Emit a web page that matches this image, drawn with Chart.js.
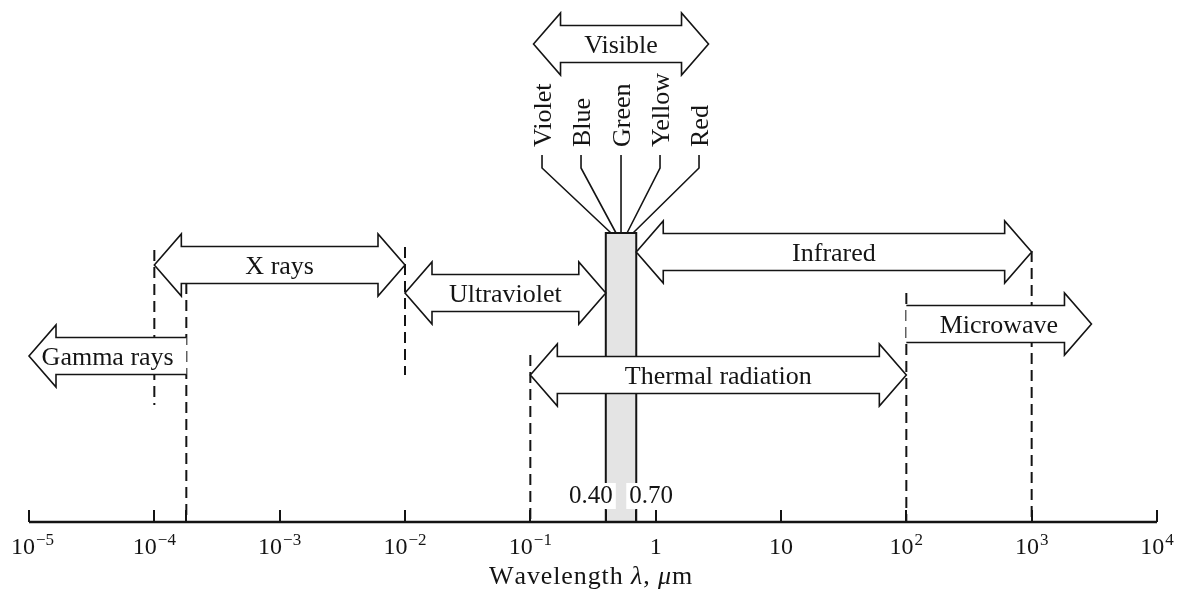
<!DOCTYPE html>
<html>
<head>
<meta charset="utf-8">
<title>Electromagnetic spectrum</title>
<script src="https://cdn.jsdelivr.net/npm/chart.js@4.4.1/dist/chart.umd.min.js"></script>
<style>
  html, body { margin: 0; padding: 0; background: #ffffff; overflow: hidden; }
  canvas { display: block; }
</style>
</head>
<body>
<canvas id="spectrum" width="1180" height="592"></canvas>
<script>
// ---- Wavelength axis (micrometres) ----
const tickWavelengths = [1e-5, 1e-4, 1e-3, 1e-2, 1e-1, 1, 10, 1e2, 1e3, 1e4];
const tickBases       = ['10', '10', '10', '10', '10', '1', '10', '10', '10', '10'];
const tickExponents   = ['\u22125', '\u22124', '\u22123', '\u22122', '\u22121', '', '', '2', '3', '4'];
const extraTicks      = [1.8e-4, 0.40, 0.70];

// ---- Spectral regions: start / end wavelength (µm) ----
const bandNames = ['Gamma rays', 'X rays', 'Ultraviolet', 'Infrared', 'Thermal radiation', 'Microwave'];
const bandStart = [1.8e-4, 1e-4, 1e-2, 0.70, 0.1, 100];
const bandEnd   = [1e-5, 1e-2, 0.40, 1e3, 100, 3000];

// ---- Visible band ----
const visibleStart  = 0.40;
const visibleEnd    = 0.70;
const visibleLabels = ['0.40', '0.70'];
const colorNames    = ['Violet', 'Blue', 'Green', 'Yellow', 'Red'];

// ---- Region boundaries drawn as dashed guides (µm) ----
const boundaryWavelengths = [1e-4, 1.8e-4, 1e-2, 1e-1, 1e2, 1e3];

// ---- Layout (heights above the axis, in y-scale units) ----
const layout = {
  bandRow:   [166, 257, 229, 270, 147, 198],
  bandHeads: ['end', 'both', 'both', 'both', 'both', 'end'],
  boundaryTop:    [272, 239, 275, 167, 229, 271],
  boundaryBottom: [117, 0, 147, 0, 0, 0],
  boxTop: 289,
  visibleRow: 478,
  visibleHalf: 87.5,
  colorLabelOffset: [-79, -40, 0, 39, 78],
  colorLeaderEnd:   [-10, -5, 0, 6, 12],
  colorLabelBottom: 375,
  leaderTop: 367,
  leaderBend: 354,
  valueLabelBaseline: 19
};

const ink = '#141414';
const serif = '"Liberation Serif", "Times New Roman", serif';
const arrowDims = { H: 31, h: 18.5, L: 27 };

function arrowShape(ctx, xa, xb, yc, heads) {
  const dir = xb > xa ? 1 : -1;
  const { H, h, L } = arrowDims;
  const both = heads === 'both';
  ctx.beginPath();
  if (both) {
    ctx.moveTo(xa, yc);
    ctx.lineTo(xa + dir * L, yc - H);
    ctx.lineTo(xa + dir * L, yc - h);
  } else {
    ctx.moveTo(xa, yc - h);
  }
  ctx.lineTo(xb - dir * L, yc - h);
  ctx.lineTo(xb - dir * L, yc - H);
  ctx.lineTo(xb, yc);
  ctx.lineTo(xb - dir * L, yc + H);
  ctx.lineTo(xb - dir * L, yc + h);
  if (both) {
    ctx.lineTo(xa + dir * L, yc + h);
    ctx.lineTo(xa + dir * L, yc + H);
    ctx.closePath();
  } else {
    ctx.lineTo(xa, yc + h);
  }
}

function drawArrow(ctx, xa, xb, yc, heads, label) {
  ctx.save();
  arrowShape(ctx, xa, xb, yc, heads);
  ctx.fillStyle = '#ffffff';
  ctx.fill();
  ctx.strokeStyle = ink;
  ctx.lineWidth = 1.6;
  ctx.lineJoin = 'miter';
  ctx.stroke();
  ctx.fillStyle = ink;
  ctx.font = '26px ' + serif;
  ctx.textAlign = 'center';
  ctx.textBaseline = 'alphabetic';
  ctx.fillText(label, (xa + xb) / 2, yc + 8.8);
  ctx.restore();
}

const spectrumPlugin = {
  id: 'spectrumDiagram',
  afterDatasetsDraw(chart) {
    const ctx = chart.ctx;
    const xs = chart.scales.x;
    const ys = chart.scales.y;
    const X = v => xs.getPixelForValue(v);
    const Y = v => ys.getPixelForValue(v);
    const area = chart.chartArea;

    // Visible band
    const bx0 = X(visibleStart), bx1 = X(visibleEnd);
    const bTop = Y(layout.boxTop), bBot = Y(0);
    ctx.save();
    ctx.fillStyle = '#e4e4e4';
    ctx.fillRect(bx0, bTop, bx1 - bx0, bBot - bTop);
    ctx.strokeStyle = ink;
    ctx.lineWidth = 2;
    ctx.strokeRect(bx0, bTop, bx1 - bx0, bBot - bTop);
    ctx.restore();

    // Region arrows
    bandNames.forEach((name, i) => {
      drawArrow(ctx, X(bandStart[i]), X(bandEnd[i]), Y(layout.bandRow[i]), layout.bandHeads[i], name);
    });

    // Colour names with leader lines to the visible band
    const centre = (bx0 + bx1) / 2;
    ctx.save();
    ctx.strokeStyle = ink;
    ctx.lineWidth = 1.6;
    colorNames.forEach((name, i) => {
      const lx = centre + layout.colorLabelOffset[i];
      const ex = centre + layout.colorLeaderEnd[i];
      ctx.beginPath();
      ctx.moveTo(lx, Y(layout.leaderTop));
      ctx.lineTo(lx, Y(layout.leaderBend));
      ctx.lineTo(ex, bTop);
      ctx.stroke();
      ctx.save();
      ctx.translate(lx + 8.8, Y(layout.colorLabelBottom));
      ctx.rotate(-Math.PI / 2);
      ctx.fillStyle = ink;
      ctx.font = '26px ' + serif;
      ctx.textAlign = 'left';
      ctx.textBaseline = 'alphabetic';
      ctx.fillText(name, 0, 0);
      ctx.restore();
    });
    ctx.restore();

    // "Visible" arrow above the colour names
    drawArrow(ctx, centre - layout.visibleHalf, centre + layout.visibleHalf, Y(layout.visibleRow), 'both', 'Visible');

    // Band edge values on white patches
    ctx.save();
    ctx.font = '25px ' + serif;
    ctx.textBaseline = 'alphabetic';
    const base = Y(layout.valueLabelBaseline);
    const w0 = ctx.measureText(visibleLabels[0]).width;
    const w1 = ctx.measureText(visibleLabels[1]).width;
    const l0 = bx0 + 7 - w0;
    const l1 = bx1 - 7;
    ctx.fillStyle = '#ffffff';
    ctx.fillRect(l0 - 3, base - 20, w0 + 6, 26);
    ctx.fillRect(l1 - 3, base - 20, w1 + 6, 26);
    ctx.fillStyle = ink;
    ctx.textAlign = 'left';
    ctx.fillText(visibleLabels[0], l0, base);
    ctx.fillText(visibleLabels[1], l1, base);
    ctx.restore();

    // Axis line and ticks
    const axisY = Y(0);
    ctx.save();
    ctx.strokeStyle = ink;
    ctx.lineWidth = 2.6;
    ctx.beginPath();
    ctx.moveTo(area.left, axisY);
    ctx.lineTo(area.right, axisY);
    ctx.stroke();
    ctx.lineWidth = 2;
    tickWavelengths.concat(extraTicks).forEach(v => {
      const px = Math.round(X(v));
      ctx.beginPath();
      ctx.moveTo(px, axisY);
      ctx.lineTo(px, axisY - 12);
      ctx.stroke();
    });

    // Tick labels: base with raised exponent
    ctx.fillStyle = ink;
    ctx.textBaseline = 'alphabetic';
    ctx.textAlign = 'left';
    tickWavelengths.forEach((v, i) => {
      ctx.font = '24px ' + serif;
      const wb = ctx.measureText(tickBases[i]).width;
      ctx.font = '17px ' + serif;
      const we = tickExponents[i] ? ctx.measureText(tickExponents[i]).width + 1 : 0;
      let left = X(v) - (wb + we) / 2;
      if (left < 11) left = 11;
      ctx.font = '24px ' + serif;
      ctx.fillText(tickBases[i], left, axisY + 32);
      if (tickExponents[i]) {
        ctx.font = '17px ' + serif;
        ctx.fillText(tickExponents[i], left + wb + 1, axisY + 23);
      }
    });

    // Axis title: Wavelength λ, µm
    const parts = [
      ['Wavelength ', ''], ['\u03bb', 'italic '], [', ', ''], ['\u03bc', 'italic '], ['m', '']
    ];
    const track = 0.9;
    let total = 0;
    parts.forEach(p => {
      ctx.font = p[1] + '26px ' + serif;
      total += ctx.measureText(p[0]).width + track * p[0].length;
    });
    let tx = (area.left + area.right) / 2 - 3 - total / 2;
    parts.forEach(p => {
      ctx.font = p[1] + '26px ' + serif;
      for (const ch of p[0]) {
        ctx.fillText(ch, tx, axisY + 62);
        tx += ctx.measureText(ch).width + track;
      }
    });
    ctx.restore();
  }
};

const boundaryDatasets = boundaryWavelengths.map((w, i) => ({
  data: [{ x: w, y: layout.boundaryTop[i] }, { x: w, y: layout.boundaryBottom[i] }],
  showLine: true,
  borderColor: ink,
  borderWidth: 2,
  borderDash: [11, 6],
  pointRadius: 0,
  fill: false,
  clip: false
}));

new Chart(document.getElementById('spectrum').getContext('2d'), {
  type: 'scatter',
  data: { datasets: boundaryDatasets },
  options: {
    responsive: false,
    animation: false,
    events: [],
    layout: { padding: { left: 29, right: 23, top: 0, bottom: 70 } },
    scales: {
      x: { type: 'logarithmic', min: 1e-5, max: 1e4, display: false },
      y: { type: 'linear', min: 0, max: 522, display: false }
    },
    plugins: {
      legend: { display: false },
      tooltip: { enabled: false },
      title: { display: false }
    }
  },
  plugins: [spectrumPlugin]
});
</script>
</body>
</html>
